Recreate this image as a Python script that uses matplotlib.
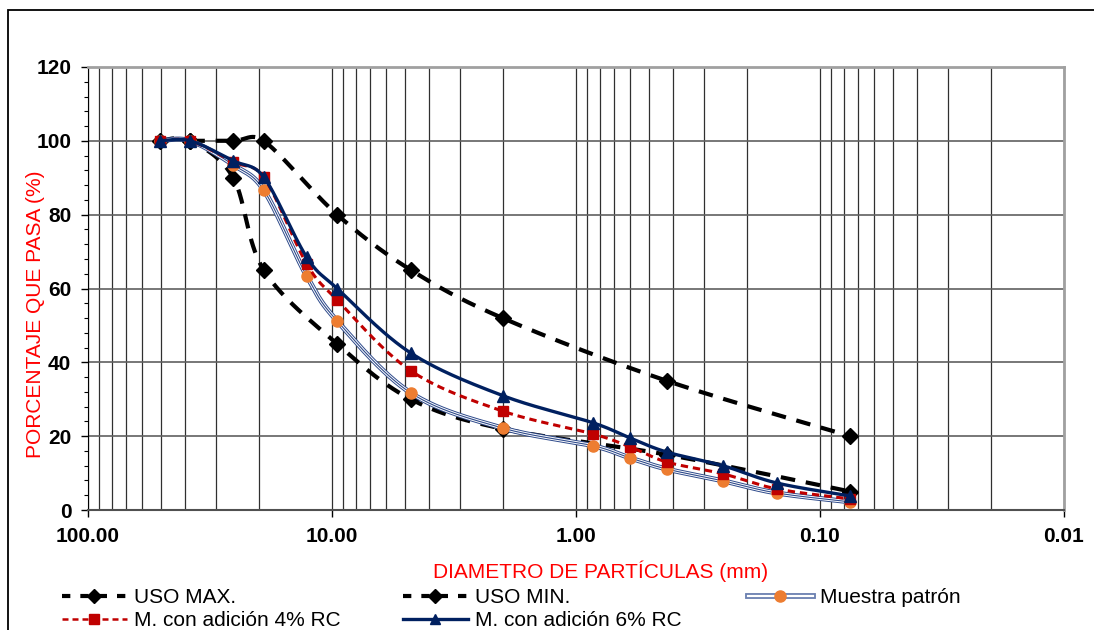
import numpy as np
import matplotlib
matplotlib.use('Agg')
import matplotlib.pyplot as plt
from matplotlib.lines import Line2D
from matplotlib.patches import Rectangle
from matplotlib.legend_handler import HandlerTuple
from matplotlib.ticker import FixedLocator, NullFormatter, MultipleLocator, LogLocator

plt.rcParams['font.family'] = ['Liberation Sans', 'DejaVu Sans']

# ---------------- data ----------------
sieve_mm = [50.8, 38.1, 25.4, 19.05, 12.7, 9.525, 4.75, 2.0, 0.85, 0.6, 0.425, 0.25, 0.15, 0.075]

uso_max_x = [38.1, 25.4, 19.05, 9.525, 4.75, 2.0, 0.425, 0.075]
uso_max_y = [100, 100, 100, 80, 65, 52, 35, 20]

uso_min_x = [50.8, 38.1, 25.4, 19.05, 9.525, 4.75, 2.0, 0.425, 0.075]
uso_min_y = [100, 100, 90, 65, 45, 30, 22, 15, 5]

muestra_patron = [100, 100, 93.5, 86.7, 63.4, 51.2, 31.7, 22.2, 17.4, 14.1, 11.1, 7.9, 4.6, 2.2]
adicion_4 = [100, 100, 94.3, 90.2, 66.7, 56.9, 37.7, 26.8, 20.6, 17.1, 13.0, 9.8, 5.7, 3.0]
adicion_6 = [100, 100, 94.6, 90.2, 68.5, 60.0, 42.5, 31.0, 23.6, 19.5, 15.7, 12.0, 7.3, 3.8]

x_major = [100, 10, 1, 0.1, 0.01]
x_major_labels = ['100.00', '10.00', '1.00', '0.10', '0.01']

labels = ['USO MAX.', 'USO MIN.', 'Muestra patrón', 'M. con adición 4% RC', 'M. con adición 6% RC']

# ---------------- figure ----------------
W, H = 1094, 630
fig = plt.figure(figsize=(W / 100, H / 100), dpi=100)
ax = fig.add_axes([88 / W, 1 - 510 / H, (1064 - 88) / W, (510 - 67) / H])
ax.set_xscale('log')
ax.set_xlim(100, 0.01)
ax.set_ylim(0, 120)

# outer chart frame (cropped)
fig.patches.append(Rectangle((8 / W, -0.5), 2.0, 0.5 + 1 - 10 / H, transform=fig.transFigure,
                             fill=False, edgecolor='black', lw=1.3, zorder=0))


def smooth(ax, xs, ys, n=40):
    """Excel-like smoothed line (Bezier, 1/6 tension, arm capped at half segment)."""
    P = ax.transData.transform(np.column_stack([xs, ys]))
    m = len(P)
    out = [P[0]]
    t = np.linspace(0, 1, n)[1:, None]
    for i in range(m - 1):
        p0 = P[i - 1] if i > 0 else P[i]
        p1 = P[i]
        p2 = P[i + 1]
        p3 = P[i + 2] if i + 2 < m else P[i + 1]
        d12 = np.hypot(*(p2 - p1))
        a1 = (p2 - p0) / 6.0
        a2 = (p3 - p1) / 6.0
        l1 = np.hypot(*a1)
        l2 = np.hypot(*a2)
        if l1 > d12 / 2 and l1 > 0:
            a1 = a1 * (d12 / 2) / l1
        if l2 > d12 / 2 and l2 > 0:
            a2 = a2 * (d12 / 2) / l2
        c1 = p1 + a1
        c2 = p2 - a2
        seg = (1 - t) ** 3 * p1 + 3 * (1 - t) ** 2 * t * c1 + 3 * (1 - t) * t ** 2 * c2 + t ** 3 * p2
        out.extend(seg)
    out = np.array(out)
    d = ax.transData.inverted().transform(out)
    return d[:, 0], d[:, 1]


# grid
ax.xaxis.set_major_locator(FixedLocator(x_major))
ax.xaxis.set_minor_locator(LogLocator(base=10, subs=np.arange(2, 10), numticks=20))
ax.xaxis.set_minor_formatter(NullFormatter())
ax.set_xticklabels(x_major_labels)
ax.yaxis.set_major_locator(MultipleLocator(20))
ax.yaxis.set_minor_locator(MultipleLocator(4))
ax.grid(True, which='both', axis='x', color='#303030', lw=0.9)
ax.grid(True, which='major', axis='y', color='#606060', lw=1.2)
ax.set_axisbelow(True)

ax.tick_params(axis='x', which='major', direction='out', length=5, width=1, pad=7,
               labelsize=15)
ax.tick_params(axis='x', which='minor', length=0)
ax.tick_params(axis='y', which='major', direction='out', length=5, width=1, pad=7,
               labelsize=15)
ax.tick_params(axis='y', which='minor', direction='out', length=3, width=0.8)
for lab in ax.get_xticklabels() + ax.get_yticklabels():
    lab.set_fontweight('bold')

ax.spines['top'].set_color('#a0a0a0')
ax.spines['right'].set_color('#a0a0a0')
ax.spines['top'].set_linewidth(2)
ax.spines['right'].set_linewidth(2)
ax.spines['left'].set_color('black')
ax.spines['bottom'].set_color('#505050')
ax.spines['bottom'].set_linewidth(1.5)

# colors
BLACK = 'black'
RED = '#c00000'
NAVY = '#002060'
PBLUE = '#2e4a8b'
ORANGE = '#ed7d31'

# USO curves
for xs, ys in [(uso_max_x, uso_max_y), (uso_min_x, uso_min_y)]:
    sx, sy = smooth(ax, xs, ys)
    ax.plot(sx, sy, color=BLACK, lw=3, dashes=(3.5, 2.6), solid_capstyle='butt', zorder=3)
    ax.plot(xs, ys, ls='none', marker='D', ms=8, color=BLACK, zorder=4)

# Muestra patrón (compound line)
sx, sy = smooth(ax, sieve_mm, muestra_patron)
ax.plot(sx, sy, color=PBLUE, lw=3.6, zorder=5)
ax.plot(sx, sy, color='white', lw=2.2, zorder=5)
ax.plot(sx, sy, color=PBLUE, lw=0.8, zorder=5)
ax.plot(sieve_mm, muestra_patron, ls='none', marker='o', ms=8, color=ORANGE, zorder=6)

# 4%
sx, sy = smooth(ax, sieve_mm, adicion_4)
ax.plot(sx, sy, color=RED, lw=2.2, dashes=(2.4, 1.6), zorder=7)
ax.plot(sieve_mm, adicion_4, ls='none', marker='s', ms=7.5, color=RED, zorder=8)

# 6%
sx, sy = smooth(ax, sieve_mm, adicion_6)
ax.plot(sx, sy, color=NAVY, lw=2.4, zorder=9)
ax.plot(sieve_mm, adicion_6, ls='none', marker='^', ms=8, color=NAVY, zorder=10)

# axis titles
fig.text(601 / W, 1 - 571 / H, 'DIAMETRO DE PARTÍCULAS (mm)', color='red', fontsize=15,
         ha='center', va='center')
fig.text(36 / W, 1 - 314 / H, 'PORCENTAJE QUE PASA (%)', color='red', fontsize=15,
         ha='center', va='center', rotation=90)

# legend handles
h_max = Line2D([], [], color=BLACK, lw=3, dashes=(2.0, 2.4), marker='D', ms=7)
h_min = Line2D([], [], color=BLACK, lw=3, dashes=(2.0, 2.4), marker='D', ms=7)
h_pat = (Line2D([], [], color='#6a7fb0', lw=4.2),
         Line2D([], [], color='white', lw=1.6),
         Line2D([], [], color='none', marker='o', ms=8, markerfacecolor=ORANGE,
                markeredgecolor=ORANGE))
h_4 = Line2D([], [], color=RED, lw=1.8, dashes=(2.4, 1.6), marker='s', ms=7)
h_6 = Line2D([], [], color=NAVY, lw=2.4, marker='^', ms=7)

common = dict(frameon=False, fontsize=15, handlelength=3.1, handletextpad=0.35,
              labelspacing=0.2, borderpad=0, borderaxespad=0, loc='upper left',
              bbox_transform=fig.transFigure)
top = 1 - 588 / H
leg1 = fig.legend([h_max, h_4], [labels[0], labels[3]], bbox_to_anchor=(62 / W, top), **common)
leg2 = fig.legend([h_min, h_6], [labels[1], labels[4]], bbox_to_anchor=(403 / W, top), **common)
leg3 = fig.legend([h_pat], [labels[2]], bbox_to_anchor=(748 / W, top),
                  handler_map={tuple: HandlerTuple(ndivide=1, pad=0)}, **common)

fig.savefig('out.png', dpi=100)
